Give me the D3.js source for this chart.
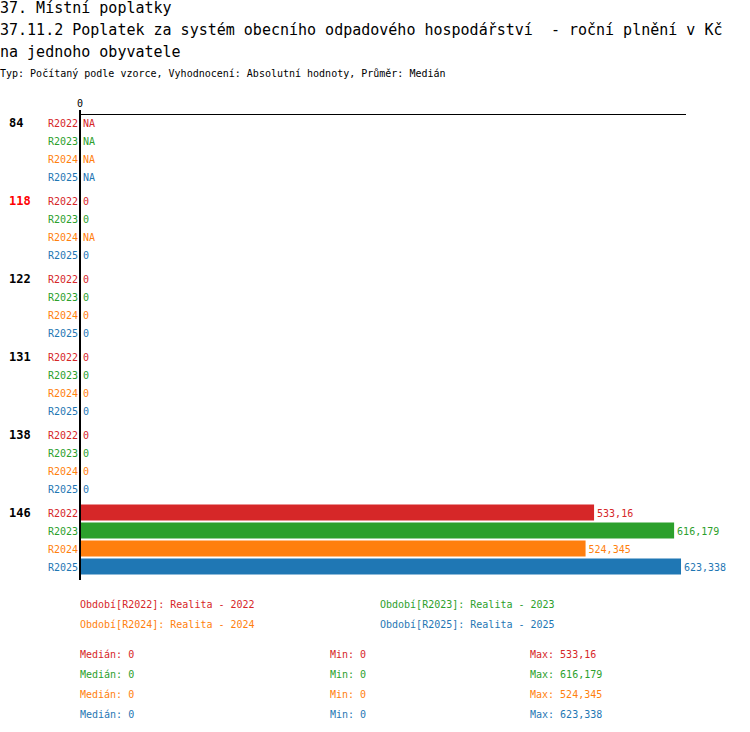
<!DOCTYPE html>
<html><head><meta charset="utf-8">
<script src="https://cdn.jsdelivr.net/npm/d3@7"></script>
<style>body{margin:0;background:#fff}svg{display:block}text{font-family:"DejaVu Sans Mono",monospace;white-space:pre}</style>
</head><body>
<script>
const titleLines = ["37. Místní poplatky", "37.11.2 Poplatek za systém obecního odpadového hospodářství  - roční plnění v Kč", "na jednoho obyvatele"];
const subtitle = "Typ: Počítaný podle vzorce, Vyhodnocení: Absolutní hodnoty, Průměr: Medián";
const categories = ["84", "118", "122", "131", "138", "146"];
const highlighted = ["118"];
const series = ["R2022", "R2023", "R2024", "R2025"];
const seriesNames = ["Realita - 2022", "Realita - 2023", "Realita - 2024", "Realita - 2025"];
const colors = ["#d62728", "#2ca02c", "#ff7f0e", "#1f77b4"];
const R2022 = [null, 0, 0, 0, 0, 533.16];
const R2023 = [null, 0, 0, 0, 0, 616.179];
const R2024 = [null, null, 0, 0, 0, 524.345];
const R2025 = [null, 0, 0, 0, 0, 623.338];
const values = [R2022, R2023, R2024, R2025];
const xTicks = [0];

const W = 750, H = 732;
const svg = d3.select("body").append("svg").attr("width", W).attr("height", H);
const fmtNum = v => v == null ? "NA" : String(v).replace(".", ",");

// titles
svg.selectAll("text.title").data(titleLines).join("text")
  .attr("x", 0).attr("y", (d, i) => 13 + i * 22).attr("xml:space", "preserve")
  .attr("font-size", 15).attr("fill", "#000").text(d => d);
svg.append("text").attr("x", 0).attr("y", 77).attr("font-size", 10).attr("fill", "#000").text(subtitle);

const maxV = d3.max(values.flat());
const x = d3.scaleLinear().domain([0, maxV * 1.0083]).range([80, 686]);
const yG = d3.scaleBand().domain(categories).range([114, 114 + categories.length * 78]);
const yS = d3.scaleBand().domain(series).range([0, 72]);

// top axis line
svg.append("line").attr("x1", x(0)).attr("x2", x.range()[1]).attr("y1", 114.5).attr("y2", 114.5)
  .attr("stroke", "#000").attr("stroke-width", 1);
svg.selectAll("text.tick").data(xTicks).join("text")
  .attr("x", d => x(d)).attr("y", 107).attr("text-anchor", "middle").attr("font-size", 10).text(d => d);

const g = svg.selectAll("g.cat").data(categories).join("g")
  .attr("transform", d => `translate(0,${yG(d)})`);
g.append("text").attr("x", 9).attr("y", 9).attr("dy", "0.35em")
  .attr("font-size", 12).attr("font-weight", "bold")
  .attr("fill", d => highlighted.includes(d) ? "#ff0000" : "#000").text(d => d);

g.each(function(cat, ci) {
  const gg = d3.select(this);
  series.forEach((s, si) => {
    const v = values[si][ci];
    const yc = yS(s) + yS.bandwidth() / 2;
    gg.append("text").attr("x", 78).attr("y", yc).attr("dy", "0.35em").attr("text-anchor", "end")
      .attr("font-size", 10).attr("fill", colors[si]).text(s);
    if (v != null && v > 0) {
      gg.append("rect").attr("x", x(0)).attr("y", yc - 8.5).attr("width", x(v) - x(0)).attr("height", 16)
        .attr("fill", colors[si]);
    }
    gg.append("text").attr("x", (v ? x(v) : x(0)) + 3).attr("y", yc).attr("dy", "0.35em")
      .attr("font-size", 10).attr("fill", colors[si]).text(fmtNum(v));
  });
});

// vertical axis
svg.append("line").attr("x1", 80).attr("x2", 80).attr("y1", 110).attr("y2", 580)
  .attr("stroke", "#000").attr("stroke-width", 2);

// legend
series.forEach((s, i) => {
  svg.append("text").attr("x", i % 2 === 0 ? 80 : 380).attr("y", 604 + Math.floor(i / 2) * 20).attr("dy", "0.35em")
    .attr("font-size", 10).attr("fill", colors[i]).text(`Období[${s}]: ${seriesNames[i]}`);
});
// stats
series.forEach((s, i) => {
  const vals = values[i].filter(v => v != null);
  const yy = 654 + i * 20;
  const t = [["Medián: ", d3.median(vals), 80], ["Min: ", d3.min(vals), 330], ["Max: ", d3.max(vals), 530]];
  t.forEach(([lab, v, xx]) => {
    svg.append("text").attr("x", xx).attr("y", yy).attr("dy", "0.35em").attr("font-size", 10)
      .attr("fill", colors[i]).text(lab + fmtNum(v));
  });
});
</script>
</body></html>
